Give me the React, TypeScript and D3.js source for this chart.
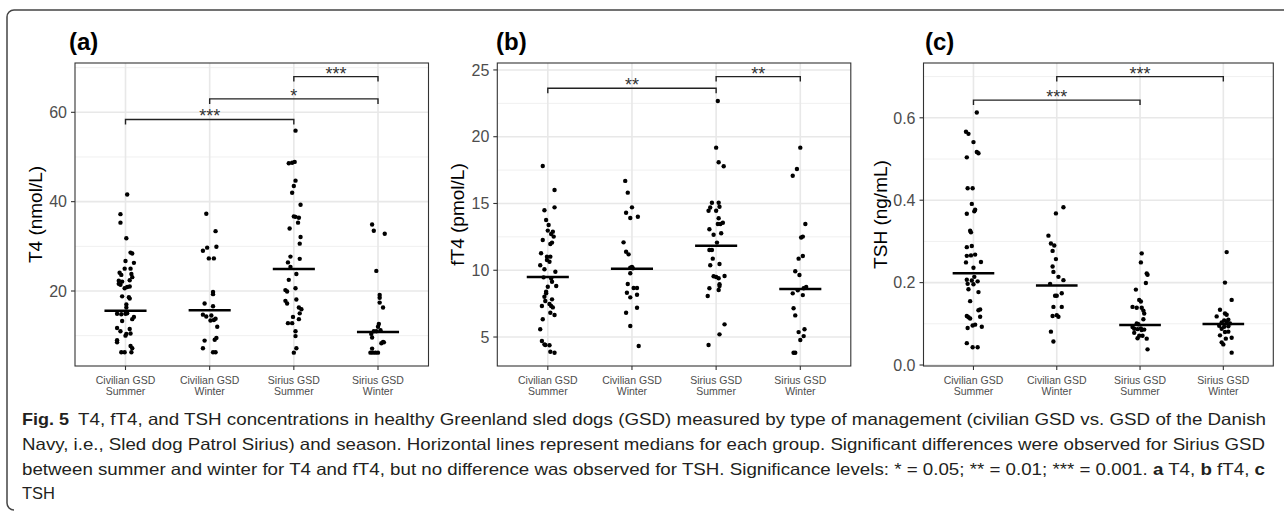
import React from 'react';
import * as d3 from 'd3';

// group names (two-line tick labels)
const groupLabels = [
  ['Civilian GSD', 'Summer'],
  ['Civilian GSD', 'Winter'],
  ['Sirius GSD', 'Summer'],
  ['Sirius GSD', 'Winter'],
];

// each point: [value, jitter in group widths]
const t4CivSummer = [
  [41.6, 0.02], [37.2, -0.06], [35.3, -0.06], [31.8, 0.01], [28.6, 0.06], [28.4, 0.08], [26.7, 0],
  [26.3, 0.1], [25.0, -0.01], [25.0, 0.06], [24.1, -0.07], [23.6, -0.05], [23.8, 0.07], [23.1, 0.08],
  [22.3, -0.08], [22.1, -0.04], [22.4, 0.05], [21.6, -0.08], [21.4, -0.06], [21.0, 0.05], [20.6, -0.01],
  [20.9, 0.02], [18.8, -0.04], [18.6, 0.04], [18.3, 0.05], [17.0, 0.01], [16.3, 0.01], [14.9, -0.1],
  [14.8, -0.05], [14.9, 0], [15.0, 0.02], [14.2, 0.1], [13.7, 0.08], [13.3, -0.04], [11.7, -0.1],
  [11.5, 0.05], [11.0, -0.06], [10.4, 0.01], [10.0, 0], [10.5, 0.06], [9.0, -0.1], [8.5, -0.1],
  [7.7, 0.06], [7.2, 0.08], [6.3, -0.05], [6.3, -0.01], [6.3, 0.07],
];
const t4CivWinter = [
  [37.3, -0.04], [33.4, 0.07], [29.0, -0.08], [29.7, -0.03], [29.9, 0.08], [27.3, -0.01], [27.3, 0.05],
  [19.8, 0.04], [19.3, 0.04], [17.2, -0.06], [16.6, 0.04], [14.7, -0.08], [14.3, -0.04], [14.5, 0.02],
  [13.5, 0.05], [13.8, 0.07], [13.4, 0.01], [12.0, 0.09], [8.9, -0.06], [9.5, 0.08], [9.1, 0.06],
  [7.2, -0.08], [6.3, 0.04], [6.3, 0.07],
];
const t4SirSummer = [
  [55.9, 0.02], [48.6, -0.06], [48.7, -0.02], [48.9, 0.01], [44.7, 0.02], [43.5, 0], [42.0, -0.02],
  [39.3, 0.08], [36.7, 0], [36.6, 0.02], [36.4, 0.06], [35.3, 0.05], [34.0, -0.05], [32.1, 0.08],
  [30.6, 0.07], [27.7, -0.04], [27.2, 0.07], [26.4, -0.07], [25.4, -0.04], [23.8, 0.03], [22.5, -0.06],
  [20.6, 0.02], [20.2, -0.1], [19.9, -0.08], [18.1, 0.03], [17.8, -0.1], [17.2, -0.08], [16.3, 0.06],
  [15.9, 0.09], [15.0, 0.07], [14.2, -0.01], [13.7, 0.06], [12.8, -0.07], [12.8, -0.02], [11.0, 0.02],
  [9.9, 0.02], [7.2, 0.03], [6.2, 0],
];
const t4SirWinter = [
  [34.9, -0.07], [33.5, -0.05], [32.8, 0.08], [24.5, -0.02], [19.1, 0.02], [18.5, 0.02], [17.4, 0.02],
  [16.3, 0.06], [12.6, 0.01], [12.0, 0], [11.0, -0.05], [11.0, -0.02], [11.2, 0.03], [10.4, -0.08],
  [9.6, -0.07], [8.6, 0.06], [8.3, 0.04], [8.5, 0.07], [7.1, -0.07], [6.2, -0.09], [6.2, -0.06],
  [6.2, -0.03], [6.2, 0],
];

const ft4CivSummer = [
  [17.81, -0.06], [16.01, 0.08], [14.71, 0.08], [14.49, -0.04], [13.76, -0.02], [13.39, 0.01], [12.97, 0],
  [12.89, 0.06], [12.72, 0.04], [12.52, 0.07], [12.07, 0.05], [12.27, -0.06], [11.97, 0.03], [11.27, -0.08],
  [11.02, -0.01], [11.02, 0.03], [10.77, -0.01], [10.64, 0.02], [10.37, -0.09], [10.07, -0.04], [9.89, 0.09],
  [9.47, -0.05], [9.39, 0.04], [9.14, 0.05], [8.77, 0], [8.82, 0.1], [8.39, -0.02], [8.27, -0.02],
  [8.02, -0.04], [7.82, 0.05], [7.7, -0.03], [7.47, 0.02], [7.32, -0.07], [7.32, 0.04], [7.22, 0.06],
  [6.82, 0.03], [6.65, 0.08], [6.33, -0.06], [5.58, -0.09], [4.7, -0.07], [4.45, -0.04], [4.38, 0.02],
  [4.4, -0.03], [3.9, 0.03], [3.82, 0.08],
];
const ft4CivWinter = [
  [16.69, -0.08], [15.81, -0.05], [14.71, 0], [14.31, -0.07], [13.91, -0.02], [14.01, 0.07], [12.09, -0.1],
  [11.39, -0.07], [11.19, -0.04], [10.2, -0.02], [10.25, 0], [10.15, 0.01], [9.77, -0.02], [8.97, -0.05],
  [8.67, 0.02], [8.67, 0.06], [8.32, -0.06], [7.97, -0.02], [8.17, 0.06], [7.19, 0.06], [6.82, -0.07],
  [5.82, -0.02], [4.33, 0.08],
];
const ft4SirSummer = [
  [22.68, 0.02], [19.18, 0], [18.09, 0.03], [17.79, 0.09], [15.06, -0.05], [15.06, 0.03], [14.7, -0.07],
  [14.75, 0.04], [14.46, -0.09], [14.46, 0], [13.89, 0.03], [13.46, 0.02], [13.46, 0.05], [13.56, 0.08],
  [13.07, -0.08], [12.66, -0.03], [12.77, 0.06], [12.07, 0.01], [11.52, -0.08], [11.52, -0.05], [10.87, -0.04],
  [10.47, 0.04], [10.37, -0.07], [9.55, -0.03], [9.5, 0], [9.4, 0.03], [9.57, 0.1], [8.95, 0.04],
  [8.82, 0.04], [8.65, -0.08], [8.52, 0.03], [8.07, -0.1], [5.95, 0.1], [5.2, 0.04], [4.4, -0.09],
];
const ft4SirWinter = [
  [19.18, 0], [17.58, -0.04], [17.08, -0.09], [13.46, 0.06], [12.52, 0.03], [12.45, 0.01], [10.87, -0.02],
  [11.07, 0.03], [9.92, -0.06], [9.64, -0.01], [8.75, 0.07], [8.65, 0.04], [8.5, -0.03], [8.27, -0.09],
  [8.14, 0.03], [7.15, -0.08], [6.62, -0.06], [5.58, 0.05], [5.37, -0.02], [5.07, 0.04], [4.78, 0],
  [3.82, -0.08], [3.82, -0.06],
];

const tshCivSummer = [
  [0.613, 0.04], [0.566, -0.09], [0.561, -0.06], [0.541, 0], [0.517, 0.04], [0.514, 0.06], [0.504, -0.08],
  [0.429, -0.07], [0.429, -0.01], [0.391, -0.02], [0.377, 0.02], [0.373, 0.01], [0.367, -0.08], [0.326, -0.04],
  [0.322, -0.03], [0.286, -0.08], [0.289, -0.02], [0.265, -0.08], [0.266, -0.03], [0.268, 0.02], [0.249, -0.09],
  [0.25, 0.09], [0.236, 0], [0.214, 0.01], [0.207, -0.08], [0.205, -0.02], [0.203, 0.05], [0.197, -0.07],
  [0.196, 0], [0.184, -0.06], [0.177, 0.06], [0.155, -0.04], [0.135, 0.08], [0.133, 0.06], [0.119, -0.08],
  [0.116, -0.06], [0.113, -0.04], [0.117, 0.08], [0.098, 0.02], [0.096, -0.01], [0.09, -0.07], [0.093, 0.1],
  [0.053, -0.08], [0.043, -0.01], [0.043, 0.05],
];
const tshCivWinter = [
  [0.383, 0.08], [0.368, -0.01], [0.314, -0.1], [0.295, -0.07], [0.29, -0.03], [0.277, -0.05], [0.257, -0.01],
  [0.239, -0.05], [0.226, -0.04], [0.214, 0.02], [0.206, 0.08], [0.197, -0.08], [0.168, -0.02], [0.168, 0],
  [0.174, 0.06], [0.141, -0.04], [0.141, 0.06], [0.119, -0.05], [0.121, 0], [0.117, 0.02], [0.081, -0.07],
  [0.057, -0.04],
];
const tshSirSummer = [
  [0.271, 0.02], [0.249, 0.01], [0.222, 0.08], [0.219, 0.09], [0.199, 0.07], [0.183, -0.05], [0.158, -0.01],
  [0.154, 0.01], [0.141, -0.09], [0.139, -0.04], [0.139, 0.02], [0.132, 0.04], [0.125, 0.05], [0.111, 0.04],
  [0.101, -0.04], [0.099, -0.02], [0.092, -0.09], [0.088, -0.07], [0.087, -0.03], [0.089, 0.01], [0.085, 0.02],
  [0.086, 0.05], [0.078, -0.07], [0.071, -0.01], [0.071, 0.03], [0.065, -0.03], [0.064, 0.08], [0.038, 0.09],
];
const tshSirWinter = [
  [0.274, 0.04], [0.2, 0.02], [0.158, 0.1], [0.134, -0.04], [0.125, 0.02], [0.122, 0.04], [0.118, -0.08],
  [0.11, 0.06], [0.108, 0.01], [0.103, -0.02], [0.105, 0.04], [0.101, 0.08], [0.095, -0.05], [0.093, 0.01],
  [0.094, 0.06], [0.088, -0.02], [0.08, 0.02], [0.081, 0.06], [0.072, -0.04], [0.066, 0.1], [0.064, 0.03],
  [0.055, -0.02], [0.05, 0], [0.03, 0.1],
];

const t4Medians = [15.6, 15.7, 24.9, 10.8];
const ft4Medians = [9.5, 10.12, 11.84, 8.6];
const tshMedians = [0.223, 0.193, 0.097, 0.0995];

const t4Ticks = [20, 40, 60];
const t4Minor = [10, 30, 50, 70];
const ft4Ticks = [5, 10, 15, 20, 25];
const ft4Minor = [7.5, 12.5, 17.5, 22.5];
const tshTicks = [0, 0.2, 0.4, 0.6];
const tshMinor = [0.1, 0.3, 0.5, 0.7];

const t4Brackets = [
  { from: 0, to: 2, y: 58.4, label: '***' },
  { from: 1, to: 3, y: 63.0, label: '*' },
  { from: 2, to: 3, y: 68.0, label: '***' },
];
const ft4Brackets = [
  { from: 0, to: 2, y: 23.63, label: '**' },
  { from: 2, to: 3, y: 24.5, label: '**' },
];
const tshBrackets = [
  { from: 0, to: 2, y: 0.643, label: '***' },
  { from: 1, to: 3, y: 0.7, label: '***' },
];

const captionLine2 =
  'Navy, i.e., Sled dog Patrol Sirius) and season. Horizontal lines represent medians for each group. Significant differences were observed for Sirius GSD';

const FONT = "'Liberation Sans', Arial, Helvetica, sans-serif";
const TOP = 63;
const BOTTOM = 366;

const panels = [
  {
    label: '(a)', labelX: 69, title: 'T4 (nmol/L)', titleX: 35, left: 75, right: 428.5,
    domain: [3.21, 71.04], ticks: t4Ticks, minor: t4Minor, fmt: d3.format('d'),
    groups: [t4CivSummer, t4CivWinter, t4SirSummer, t4SirWinter], medians: t4Medians, brackets: t4Brackets,
  },
  {
    label: '(b)', labelX: 496, title: 'fT4 (pmol/L)', titleX: 457, left: 497.3, right: 850.8,
    domain: [2.83, 25.52], ticks: ft4Ticks, minor: ft4Minor, fmt: d3.format('d'),
    groups: [ft4CivSummer, ft4CivWinter, ft4SirSummer, ft4SirWinter], medians: ft4Medians, brackets: ft4Brackets,
  },
  {
    label: '(c)', labelX: 925, title: 'TSH (ng/mL)', titleX: 880, left: 923.5, right: 1273.3,
    domain: [-0.0024, 0.733], ticks: tshTicks, minor: tshMinor, fmt: d3.format('.1f'),
    groups: [tshCivSummer, tshCivWinter, tshSirSummer, tshSirWinter], medians: tshMedians, brackets: tshBrackets,
  },
];

function Panel({ p }: { p: any }) {
  const x = d3.scalePoint<number>().domain([0, 1, 2, 3]).range([p.left, p.right]).padding(0.6);
  const step = x.step();
  const y = d3.scaleLinear().domain(p.domain).range([BOTTOM, TOP]);
  const cx = (i: number) => x(i) as number;
  const tip = 5;

  return (
    <g>
      <text x={p.labelX} y={50} fontFamily={FONT} fontWeight="bold" fontSize={24}>{p.label}</text>
      <rect x={p.left} y={TOP} width={p.right - p.left} height={BOTTOM - TOP} fill="white" />
      {p.minor.filter((v: number) => v > p.domain[0] && v < p.domain[1]).map((v: number) => (
        <line key={'mi' + v} x1={p.left} x2={p.right} y1={y(v)} y2={y(v)} stroke="#f0f0f0" strokeWidth={1} />
      ))}
      {p.ticks.map((v: number) => (
        <line key={'ma' + v} x1={p.left} x2={p.right} y1={y(v)} y2={y(v)} stroke="#e8e8e8" strokeWidth={1.6} />
      ))}
      {[0, 1, 2, 3].map(i => (
        <line key={'vx' + i} x1={cx(i)} x2={cx(i)} y1={TOP} y2={BOTTOM} stroke="#e8e8e8" strokeWidth={1.6} />
      ))}
      {p.groups.map((g: number[][], i: number) =>
        g.map((d, j) => (
          <circle key={i + '-' + j} cx={cx(i) + d[1] * step} cy={y(d[0])} r={2.2} fill="#000" />
        )),
      )}
      {p.medians.map((m: number, i: number) => (
        <line key={'md' + i} x1={cx(i) - step * 0.25} x2={cx(i) + step * 0.25} y1={y(m)} y2={y(m)} stroke="#000" strokeWidth={2.5} />
      ))}
      {p.brackets.map((b: any, i: number) => {
        const x1 = cx(b.from);
        const x2 = cx(b.to);
        const yy = y(b.y);
        return (
          <g key={'br' + i}>
            <path d={`M${x1},${yy + tip}V${yy}H${x2}V${yy + tip}`} fill="none" stroke="#222" strokeWidth={1.4} />
            <text x={(x1 + x2) / 2} y={yy + 3} textAnchor="middle" fontFamily={FONT} fontSize={18} fill="#333">{b.label}</text>
          </g>
        );
      })}
      <rect x={p.left} y={TOP} width={p.right - p.left} height={BOTTOM - TOP} fill="none" stroke="#333" strokeWidth={1.1} />
      {p.ticks.map((v: number) => (
        <g key={'yt' + v}>
          <line x1={p.left - 4} x2={p.left} y1={y(v)} y2={y(v)} stroke="#333" strokeWidth={1.1} />
          <text x={p.left - 8} y={y(v)} dy="0.36em" textAnchor="end" fontFamily={FONT} fontSize={16} fill="#4d4d4d">{p.fmt(v)}</text>
        </g>
      ))}
      {[0, 1, 2, 3].map(i => (
        <g key={'xt' + i}>
          <line x1={cx(i)} x2={cx(i)} y1={BOTTOM} y2={BOTTOM + 4} stroke="#333" strokeWidth={1.1} />
          <text x={cx(i)} y={384} textAnchor="middle" fontFamily={FONT} fontSize={10.5} fill="#4d4d4d">{groupLabels[i][0]}</text>
          <text x={cx(i)} y={395} textAnchor="middle" fontFamily={FONT} fontSize={10.5} fill="#4d4d4d">{groupLabels[i][1]}</text>
        </g>
      ))}
      <text transform={`translate(${p.titleX},${(TOP + BOTTOM) / 2}) rotate(-90)`} dy="0.35em" textAnchor="middle" fontFamily={FONT} fontSize={19} fill="#000">{p.title}</text>
    </g>
  );
}

export default function App() {
  const capFont = "'Liberation Sans Narrow', 'Liberation Sans', Arial, sans-serif";
  const lineY = [425, 450, 475, 499];
  return (
    <svg width={1284} height={516} style={{ position: 'absolute', left: 0, top: 0, background: '#fff' }}>
      <rect x={0} y={0} width={1284} height={516} fill="#fff" />
      <path d="M1290,10H14A7,7 0 0 0 7,17V503A7,7 0 0 0 14,510" fill="none" stroke="#444" strokeWidth={1.5} />
      {panels.map((p, i) => <Panel key={i} p={p} />)}
      <g fontFamily={capFont} fontSize={16.5} fill="#231f20">
        <text x={22} y={lineY[0]} fontWeight="bold" textLength={47} lengthAdjust="spacingAndGlyphs">Fig. 5</text>
        <text x={78} y={lineY[0]} textLength={1188} lengthAdjust="spacingAndGlyphs">
          T4, fT4, and TSH concentrations in healthy Greenland sled dogs (GSD) measured by type of management (civilian GSD vs. GSD of the Danish
        </text>
        <text x={22} y={lineY[1]} textLength={1243} lengthAdjust="spacingAndGlyphs">{captionLine2}</text>
        <text x={22} y={lineY[2]} textLength={1243} lengthAdjust="spacingAndGlyphs">
          between summer and winter for T4 and fT4, but no difference was observed for TSH. Significance levels: * = 0.05; ** = 0.01; *** = 0.001.{' '}
          <tspan fontWeight="bold">a</tspan> T4, <tspan fontWeight="bold">b</tspan> fT4, <tspan fontWeight="bold">c</tspan>
        </text>
        <text x={22} y={lineY[3]}>TSH</text>
      </g>
    </svg>
  );
}
